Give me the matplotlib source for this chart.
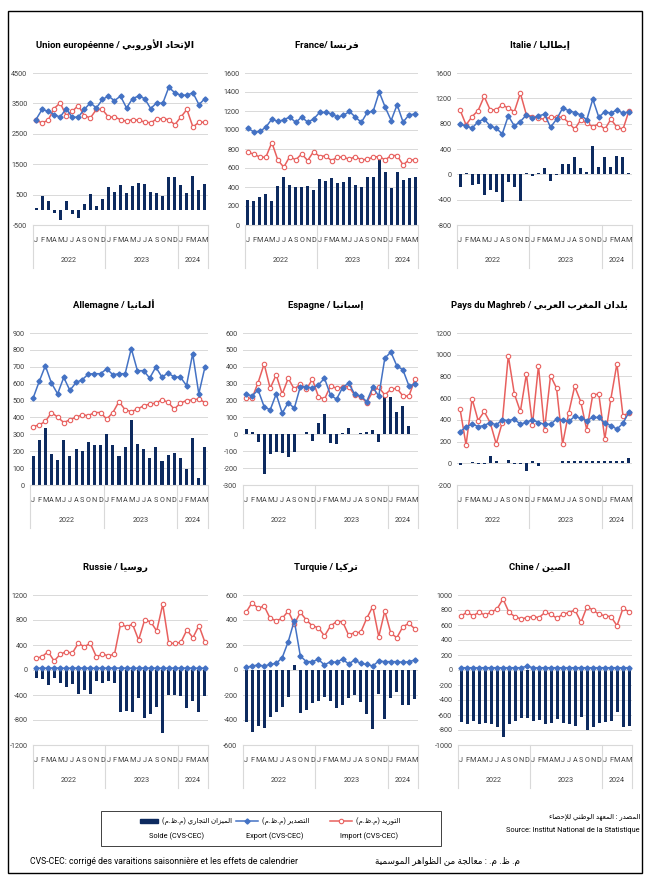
import matplotlib
matplotlib.use("Agg")
import matplotlib.pyplot as plt
from matplotlib.patches import Rectangle
from matplotlib.lines import Line2D
import numpy as np

# ---------------- Arabic shaping (presentation forms, visual order) ----------------
DUAL = {'\u0626': 0xFE89, '\u0628': 0xFE8F, '\u062A': 0xFE95, '\u062B': 0xFE99, '\u062C': 0xFE9D,
        '\u062D': 0xFEA1, '\u062E': 0xFEA5, '\u0633': 0xFEB1, '\u0634': 0xFEB5, '\u0635': 0xFEB9,
        '\u0636': 0xFEBD, '\u0637': 0xFEC1, '\u0638': 0xFEC5, '\u0639': 0xFEC9, '\u063A': 0xFECD,
        '\u0641': 0xFED1, '\u0642': 0xFED5, '\u0643': 0xFED9, '\u0644': 0xFEDD, '\u0645': 0xFEE1,
        '\u0646': 0xFEE5, '\u0647': 0xFEE9, '\u064A': 0xFEF1}
RIGHT = {'\u0622': 0xFE81, '\u0623': 0xFE83, '\u0624': 0xFE85, '\u0625': 0xFE87, '\u0627': 0xFE8D,
         '\u0629': 0xFE93, '\u062F': 0xFEA9, '\u0630': 0xFEAB, '\u0631': 0xFEAD, '\u0632': 0xFEAF,
         '\u0648': 0xFEED, '\u0649': 0xFEEF}
NONJ = {'\u0621': 0xFE80}
LAMALEF = {'\u0622': 0xFEF5, '\u0623': 0xFEF7, '\u0625': 0xFEF9, '\u0627': 0xFEFB}


def ar(s):
    toks = []
    i = 0
    while i < len(s):
        c = s[i]
        if c == '\u0644' and i + 1 < len(s) and s[i + 1] in LAMALEF:
            toks.append(('LA', s[i + 1]))
            i += 2
        else:
            toks.append(('C', c))
            i += 1

    def joins_next(t):
        return t[0] == 'C' and t[1] in DUAL

    def joinable(t):
        return t[0] == 'LA' or t[1] in DUAL or t[1] in RIGHT

    res = []
    for j, t in enumerate(toks):
        prev = toks[j - 1] if j > 0 else None
        nxt = toks[j + 1] if j + 1 < len(toks) else None
        pj = prev is not None and joins_next(prev)
        nj = nxt is not None and joinable(nxt) and joins_next(t)
        k, c = t
        if k == 'LA':
            res.append(chr(LAMALEF[c] + (1 if pj else 0)))
        elif c in DUAL:
            res.append(chr(DUAL[c] + (3 if (pj and nj) else 1 if pj else 2 if nj else 0)))
        elif c in RIGHT:
            res.append(chr(RIGHT[c] + (1 if pj else 0)))
        elif c in NONJ:
            res.append(chr(NONJ[c]))
        else:
            res.append(c)
    vis = ''.join(reversed(res))
    mirror = {'(': ')', ')': '('}
    return ''.join(mirror.get(ch, ch) for ch in vis)


FONT = ['Roboto', 'DejaVu Sans']
plt.rcParams['font.family'] = FONT

# ---------------- Data (Jan 2022 - May 2024, 29 months) ----------------
months = ['J', 'F', 'M', 'A', 'M', 'J', 'J', 'A', 'S', 'O', 'N', 'D',
          'J', 'F', 'M', 'A', 'M', 'J', 'J', 'A', 'S', 'O', 'N', 'D',
          'J', 'F', 'M', 'A', 'M']
years = ['2022', '2023', '2024']
year_sizes = [12, 12, 5]

eu_export = [2970, 3300, 3240, 3130, 3050, 3330, 3040, 3050, 3300, 3520, 3350, 3630,
             3740, 3590, 3740, 3350, 3660, 3740, 3660, 3330, 3520, 3500, 4030, 3850,
             3770, 3770, 3850, 3460, 3660]
eu_import = [2945, 2860, 2945, 3330, 3520, 3100, 3240, 3430, 3100, 3020, 3300, 3300,
             3050, 3050, 2970, 2910, 2970, 2945, 2890, 2860, 2990, 2990, 2970, 2800,
             3050, 3300, 2725, 2880, 2880]
eu_solde = [75, 470, 300, -110, -350, 300, -140, -275, 200, 530, 140, 360,
            740, 580, 820, 550, 770, 880, 860, 580, 550, 470, 1080, 1080,
            800, 550, 1120, 660, 860]

fr_export = [1020, 978, 985, 1030, 1115, 1090, 1108, 1136, 1080, 1136, 1083, 1115,
             1185, 1185, 1170, 1136, 1153, 1196, 1136, 1080, 1185, 1200, 1400, 1240,
             1100, 1266, 1083, 1160, 1167]
fr_import = [766, 745, 714, 714, 868, 685, 608, 721, 685, 749, 678, 773,
             721, 728, 678, 714, 714, 692, 721, 685, 692, 714, 721, 685,
             731, 731, 633, 685, 685]
fr_solde = [264, 253, 292, 323, 253, 411, 503, 425, 397, 397, 411, 369,
            482, 460, 492, 439, 450, 503, 425, 404, 503, 503, 685, 563,
            394, 563, 475, 492, 503]

it_export = [791, 765, 728, 833, 870, 765, 728, 638, 923, 765, 833, 939,
             886, 923, 949, 744, 870, 1044, 1007, 976, 939, 860, 1187, 902,
             991, 965, 1018, 965, 991]
it_import = [1018, 781, 912, 1007, 1229, 1018, 1018, 1097, 1044, 991, 1281, 939,
             912, 886, 870, 902, 902, 902, 818, 712, 860, 807, 754, 796,
             712, 870, 744, 712, 1002]
it_solde = [-195, 15, -169, -153, -327, -248, -274, -432, -116, -195, -417, 15,
            -20, 15, 95, -100, -5, 163, 163, 280, 95, 42, 448, 111,
            280, 111, 295, 280, 15]

de_export = [514, 613, 706, 603, 540, 637, 560, 607, 623, 657, 659, 659,
             688, 653, 659, 659, 808, 677, 677, 633, 698, 639, 663, 639,
             639, 589, 778, 540, 698]
de_import = [346, 356, 376, 429, 402, 370, 386, 402, 415, 411, 429, 429,
             390, 429, 494, 445, 435, 449, 469, 479, 485, 504, 490, 449,
             485, 500, 504, 510, 488]
de_solde = [174, 267, 340, 184, 148, 267, 174, 212, 204, 253, 237, 237,
            301, 237, 172, 224, 386, 241, 212, 162, 224, 142, 178, 188,
            158, 95, 281, 44, 224]

es_export = [239, 227, 263, 164, 144, 239, 125, 188, 154, 283, 283, 273,
             293, 332, 233, 208, 277, 303, 239, 227, 194, 279, 227, 451,
             487, 405, 382, 287, 299]
es_import = [214, 214, 306, 417, 273, 352, 239, 332, 267, 299, 267, 326,
             223, 208, 287, 273, 279, 283, 233, 223, 188, 253, 279, 233,
             267, 273, 227, 227, 326]
es_solde = [30, 12, -44, -237, -119, -103, -113, -133, -103, 0, 12, -38,
            69, 121, -49, -57, 10, 40, 0, 6, 12, 26, -44, 220,
            224, 134, 168, 51, 0]

mg_export = [292, 332, 363, 338, 348, 375, 354, 400, 394, 406, 360, 378,
             400, 375, 360, 360, 406, 400, 385, 431, 415, 394, 422, 422,
             369, 348, 314, 369, 471]
mg_import = [502, 169, 594, 394, 477, 375, 178, 375, 991, 640, 477, 822,
             354, 898, 308, 806, 692, 178, 462, 708, 569, 308, 631, 637,
             225, 594, 917, 440, 462]
mg_solde = [-15, 0, 15, -6, -6, 68, 22, 0, 31, -9, -9, -71,
            22, -25, 0, 6, 6, 22, 22, 22, 22, 22, 22, 22,
            22, 22, 22, 22, 46]

ru_export = [30, 28, 30, 32, 30, 28, 30, 32, 30, 30, 28, 30,
             30, 32, 30, 30, 28, 30, 32, 30, 30, 28, 30, 30,
             32, 30, 30, 28, 30]
ru_import = [187, 213, 293, 144, 251, 293, 267, 427, 373, 427, 213, 251,
             229, 251, 731, 693, 731, 480, 800, 773, 624, 1051, 427, 427,
             443, 640, 517, 709, 443]
ru_solde = [-133, -149, -240, -123, -213, -267, -229, -389, -320, -389, -176, -213,
            -176, -213, -677, -656, -677, -453, -763, -709, -587, -1003, -400, -400,
            -416, -603, -491, -667, -416]

tr_export = [21, 32, 40, 32, 45, 53, 99, 227, 395, 112, 67, 67,
             85, 40, 67, 61, 88, 48, 80, 53, 45, 32, 72, 67,
             67, 67, 61, 67, 80]
tr_import = [461, 539, 493, 512, 413, 395, 413, 472, 368, 461, 400, 352,
             339, 272, 352, 387, 387, 280, 299, 301, 413, 507, 267, 472,
             293, 259, 347, 373, 328]
tr_solde = [-413, -493, -445, -467, -373, -333, -299, -219, 40, -347, -320, -261,
            -245, -219, -248, -301, -280, -221, -200, -253, -355, -475, -195, -392,
            -221, -173, -280, -280, -235]

cn_export = [31, 30, 31, 30, 31, 30, 31, 30, 31, 30, 31, 50,
             31, 30, 31, 30, 31, 30, 31, 30, 31, 30, 31, 30,
             31, 30, 31, 30, 31]
cn_import = [720, 769, 724, 769, 733, 769, 813, 947, 769, 711, 680, 698,
             711, 698, 769, 742, 689, 747, 764, 800, 636, 844, 800, 742,
             724, 711, 591, 822, 778]
cn_solde = [-689, -720, -680, -720, -711, -720, -764, -889, -720, -676, -636, -636,
            -676, -667, -720, -711, -653, -711, -720, -747, -622, -800, -756, -711,
            -689, -680, -564, -764, -742]

# ---------------- Styling ----------------
W, H = 646, 875
C_EXP = '#4472C4'
C_IMP = '#E8605E'
C_SOL = '#0D2A5F'
C_GRID = '#D9D9D9'
C_TXT = '#404040'

fig = plt.figure(figsize=(W / 100, H / 100), dpi=100)
fig.patch.set_facecolor('white')


def add_ax(l, t, r, b):
    return fig.add_axes([l / W, 1 - b / H, (r - l) / W, (b - t) / H])


panels = [
    dict(rect=(33, 73, 208, 225), fr='Union européenne / ', arab='الإتحاد الأوروبي',
         ex=eu_export, im=eu_import, so=eu_solde, ylim=(-500, 4500), step=1000, ty=45),
    dict(rect=(245, 73, 418, 225), fr='France/ ', arab='فرنسا',
         ex=fr_export, im=fr_import, so=fr_solde, ylim=(0, 1600), step=200, ty=45),
    dict(rect=(457, 73, 632, 225), fr='Italie / ', arab='إيطاليا',
         ex=it_export, im=it_import, so=it_solde, ylim=(-800, 1600), step=400, ty=45),
    dict(rect=(30, 333, 208, 485), fr='Allemagne / ', arab='ألمانيا',
         ex=de_export, im=de_import, so=de_solde, ylim=(0, 900), step=100, ty=305),
    dict(rect=(243, 333, 418, 485), fr='Espagne / ', arab='إسبانيا',
         ex=es_export, im=es_import, so=es_solde, ylim=(-300, 600), step=100, ty=305),
    dict(rect=(457, 333, 632, 485), fr='Pays du Maghreb / ', arab='بلدان المغرب العربي',
         ex=mg_export, im=mg_import, so=mg_solde, ylim=(-200, 1200), step=200, ty=305),
    dict(rect=(33, 595, 208, 745), fr='Russie / ', arab='روسيا',
         ex=ru_export, im=ru_import, so=ru_solde, ylim=(-1200, 1200), step=400, ty=567),
    dict(rect=(243, 595, 418, 745), fr='Turquie / ', arab='تركيا',
         ex=tr_export, im=tr_import, so=tr_solde, ylim=(-600, 600), step=200, ty=567),
    dict(rect=(458, 595, 632, 745), fr='Chine / ', arab='الصين',
         ex=cn_export, im=cn_import, so=cn_solde, ylim=(-1000, 1000), step=200, ty=567),
]

x = np.arange(len(months))

for p in panels:
    l, t, r, b = p['rect']
    ax = add_ax(l, t, r, b)
    hpx = b - t
    lo, hi = p['ylim']
    ticks = np.arange(lo, hi + 1, p['step'])
    ax.set_ylim(lo, hi)
    ax.set_xlim(-0.5, len(months) - 0.5)
    ax.set_yticks(ticks)
    ax.set_yticklabels([str(int(v)) for v in ticks], fontsize=5.2, color=C_TXT)
    ax.tick_params(axis='y', length=0, pad=4)
    ax.set_xticks([])
    for s in ax.spines.values():
        s.set_visible(False)
    ax.set_axisbelow(True)
    ax.yaxis.grid(True, color=C_GRID, lw=0.7)
    ax.bar(x, p['so'], width=0.5, color=C_SOL, zorder=2)
    ax.plot(x, p['im'], color=C_IMP, lw=1.1, marker='o', ms=3.2, mfc='white',
            mec=C_IMP, mew=0.8, zorder=3)
    ax.plot(x, p['ex'], color=C_EXP, lw=1.1, marker='D', ms=2.6, mfc=C_EXP,
            mec=C_EXP, zorder=4)
    # category axis (multi-level)
    trans = ax.get_xaxis_transform()
    f_m = -16 / hpx
    f_y = -36 / hpx
    f_b = -43 / hpx
    ax.plot([-0.5, len(months) - 0.5], [0, 0], transform=trans, color=C_GRID, lw=0.8,
            clip_on=False)
    edges = [-0.5]
    acc = 0
    for n in year_sizes:
        acc += n
        edges.append(acc - 0.5)
    for e in edges:
        ax.plot([e, e], [0, f_b], transform=trans, color=C_GRID, lw=0.8, clip_on=False)
    for i, m in enumerate(months):
        ax.text(i, f_m, m, transform=trans, ha='center', va='center', fontsize=5.2,
                color=C_TXT)
    for k, yr in enumerate(years):
        cx = (edges[k] + edges[k + 1]) / 2
        ax.text(cx, f_y, yr, transform=trans, ha='center', va='center', fontsize=5.2,
                color=C_TXT)
    cxp = (l + r) / 2 - 5
    fig.text(cxp / W, 1 - p['ty'] / H, p['fr'] + ar(p['arab']), ha='center',
             va='center', fontsize=6.8, fontweight='bold', color='black')

# ---------------- Outer frame ----------------
fig.add_artist(Rectangle((8 / W, 1 - 873 / H), (642 - 8) / W, (873 - 11) / H,
                         transform=fig.transFigure, fill=False, ec='black', lw=1.0))

# ---------------- Legend ----------------
fig.add_artist(Rectangle((101 / W, 1 - 846 / H), (441 - 101) / W, (846 - 811) / H,
                         transform=fig.transFigure, fill=False, ec='#404040', lw=0.7))


def fx(px):
    return px / W


def fy(py):
    return 1 - py / H


leg = [
    dict(ar_txt='الميزان التجاري (م.ظ.م)', fr_txt='Solde (CVS-CEC)', kind='bar', color=C_SOL,
         sw=(140, 158)),
    dict(ar_txt='التصدير (م.ظ.م)', fr_txt='Export (CVS-CEC)', kind='exp', color=C_EXP,
         sw=(236, 258)),
    dict(ar_txt='التوريد (م.ظ.م)', fr_txt='Import (CVS-CEC)', kind='imp', color=C_IMP,
         sw=(330, 352)),
]
for e in leg:
    x0, x1 = e['sw']
    yy = fy(821)
    if e['kind'] == 'bar':
        fig.add_artist(Rectangle((fx(x0), fy(823)), fx(x1) - fx(x0), 4 / H,
                                 transform=fig.transFigure, color=e['color']))
    elif e['kind'] == 'exp':
        fig.add_artist(Line2D([fx(x0), fx(x1)], [yy, yy], transform=fig.transFigure,
                              color=e['color'], lw=1.1))
        fig.add_artist(Line2D([fx((x0 + x1) / 2)], [yy], transform=fig.transFigure,
                              color=e['color'], marker='D', ms=2.6))
    else:
        fig.add_artist(Line2D([fx(x0), fx(x1)], [yy, yy], transform=fig.transFigure,
                              color=e['color'], lw=1.1))
        fig.add_artist(Line2D([fx((x0 + x1) / 2)], [yy], transform=fig.transFigure,
                              color=e['color'], marker='o', ms=3.2, mfc='white', mew=0.8))
    fig.text(fx(x1 + 4), yy, ar(e['ar_txt']), ha='left', va='center', fontsize=5,
             color='black')
    fig.text(fx(x1 + 46), fy(836), e['fr_txt'], ha='right', va='center', fontsize=5.3,
             color='black')

# ---------------- Source & notes ----------------
fig.text(fx(640), fy(817), ar('المصدر : المعهد الوطني للإحصاء'), ha='right', va='center',
         fontsize=5, color='black')
fig.text(fx(640), fy(830), 'Source: Institut National de la Statistique', ha='right',
         va='center', fontsize=5.3, color='black')
fig.text(fx(30), fy(862), 'CVS-CEC: corrigé des varaitions saisonnière et les effets de calendrier',
         ha='left', va='center', fontsize=6.2, color='black')
fig.text(fx(520), fy(862), ar('م. ظ. م. : معالجة من الظواهر الموسمية'), ha='right',
         va='center', fontsize=6.4, color='black')

fig.savefig('out.png', dpi=100, facecolor='white')
